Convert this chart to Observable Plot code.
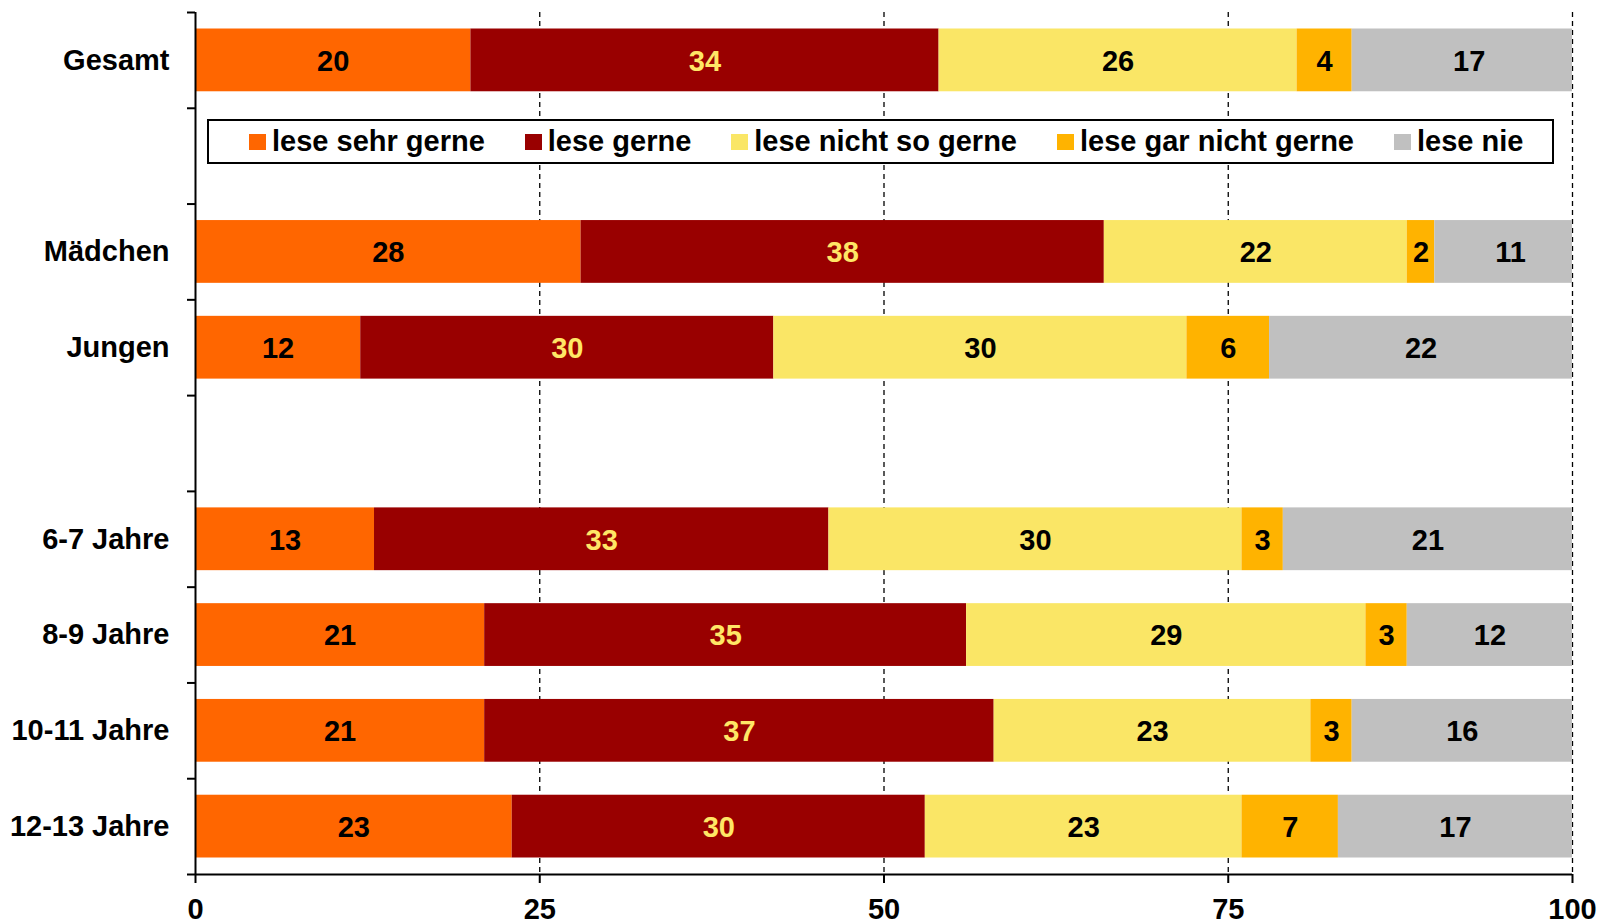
<!DOCTYPE html>
<html>
<head>
<meta charset="utf-8">
<script src="https://cdn.jsdelivr.net/npm/d3@7"></script>
<script src="https://cdn.jsdelivr.net/npm/@observablehq/plot@0.6"></script>
<style>
  html, body { margin: 0; padding: 0; background: #fff; }
  #wrap { position: relative; width: 1600px; height: 922px; font-family: "Liberation Sans", Arial, sans-serif; }
  #legend {
    position: absolute; left: 207px; top: 119px; width: 1347px; height: 45px;
    border: 2px solid #000; background: #fff; box-sizing: border-box;
    display: flex; align-items: center; gap: 40px; padding-left: 40px;
    font-weight: bold; font-size: 29px; color: #000;
  }
  #legend .item { display: flex; align-items: center; white-space: nowrap; }
  #legend .sw { width: 17px; height: 16px; margin-right: 6px; }
</style>
</head>
<body>
<div id="wrap"></div>
<script>
// Row categories (blank rows are spacer slots)
const rows = ["Gesamt", " ", "Mädchen", "Jungen", "  ", "6-7 Jahre", "8-9 Jahre", "10-11 Jahre", "12-13 Jahre"];
const series = ["lese sehr gerne", "lese gerne", "lese nicht so gerne", "lese gar nicht gerne", "lese nie"];
const colors = ["#FF6600", "#990000", "#FAE666", "#FFB300", "#C0C0C0"];
const labelColors = ["#000000", "#FFE666", "#000000", "#000000", "#000000"];

const gesamt   = [20, 34, 26, 4, 17];
const maedchen = [28, 38, 22, 2, 11];
const jungen   = [12, 30, 30, 6, 22];
const j67      = [13, 33, 30, 3, 21];
const j89      = [21, 35, 29, 3, 12];
const j1011    = [21, 37, 23, 3, 16];
const j1213    = [23, 30, 23, 7, 17];
const xTicks = [0, 25, 50, 75, 100];

const rowValues = [
  ["Gesamt", gesamt], ["Mädchen", maedchen], ["Jungen", jungen],
  ["6-7 Jahre", j67], ["8-9 Jahre", j89], ["10-11 Jahre", j1011], ["12-13 Jahre", j1213]
];
const data = [];
for (const [row, vals] of rowValues) {
  vals.forEach((v, i) => data.push({row, series: series[i], value: v, lc: labelColors[i]}));
}

const W = 1600, H = 922, mT = 12, mB = 48, mL = 195, mR = 28;
const step = (H - mT - mB) / rows.length;
const pxPerUnit = (W - mL - mR) / 100;
const tickLen = 8;
const font = "'Liberation Sans', Arial, sans-serif";

const chart = Plot.plot({
  width: W, height: H,
  marginTop: mT, marginBottom: mB, marginLeft: mL, marginRight: mR,
  style: {fontFamily: font, fontSize: "29px", fontWeight: "bold", color: "#000", background: "#fff", overflow: "visible"},
  x: {domain: [0, 100], axis: null, label: null, clamp: true},
  y: {domain: rows, padding: 0, round: false, axis: null, label: null},
  color: {domain: series, range: colors},
  marks: [
    Plot.ruleX([25, 50, 75, 100], {stroke: "#000", strokeWidth: 1.3, strokeDasharray: "5,4"}),
    Plot.barX(data, Plot.stackX({y: "row", x: "value", z: "series", fill: "series", order: null, insetTop: 16.5, insetBottom: 16.5})),
    Plot.text(data, Plot.stackX({y: "row", x: "value", z: "series", order: null, text: d => String(d.value), fill: "lc", fontSize: 29, fontWeight: "bold", dy: 1})),
    // y axis line
    Plot.ruleX([0], {stroke: "#000", strokeWidth: 2}),
    // band boundary ticks (shifted left of the axis)
    Plot.ruleY(rows, {y: d => d, x1: 0, x2: tickLen / pxPerUnit, dx: -tickLen, dy: -step / 2, stroke: "#000", strokeWidth: 2}),
    Plot.ruleY([rows[rows.length - 1]], {y: d => d, x1: 0, x2: tickLen / pxPerUnit, dx: -tickLen, dy: step / 2, stroke: "#000", strokeWidth: 2}),
    // x axis line
    Plot.ruleY([rows[rows.length - 1]], {y: d => d, x1: 0, x2: 100, dy: step / 2, stroke: "#000", strokeWidth: 2}),
    // y labels
    Plot.text(rows, {y: d => d, x: 0, text: d => d, textAnchor: "end", dx: -26, fontSize: 29, fontWeight: "bold", fill: "#000"}),
    // x axis ticks and labels
    Plot.axisX(xTicks, {anchor: "bottom", label: null, tickSize: 9, tickPadding: 15, strokeWidth: 2, fontSize: 29, fontWeight: "bold", tickFormat: d => String(d)})
  ]
});

const wrap = document.getElementById("wrap");
wrap.appendChild(chart);

const legend = document.createElement("div");
legend.id = "legend";
series.forEach((s, i) => {
  const item = document.createElement("div");
  item.className = "item";
  const sw = document.createElement("span");
  sw.className = "sw";
  sw.style.background = colors[i];
  const t = document.createElement("span");
  t.textContent = s;
  item.appendChild(sw); item.appendChild(t);
  legend.appendChild(item);
});
wrap.appendChild(legend);
</script>
</body>
</html>
